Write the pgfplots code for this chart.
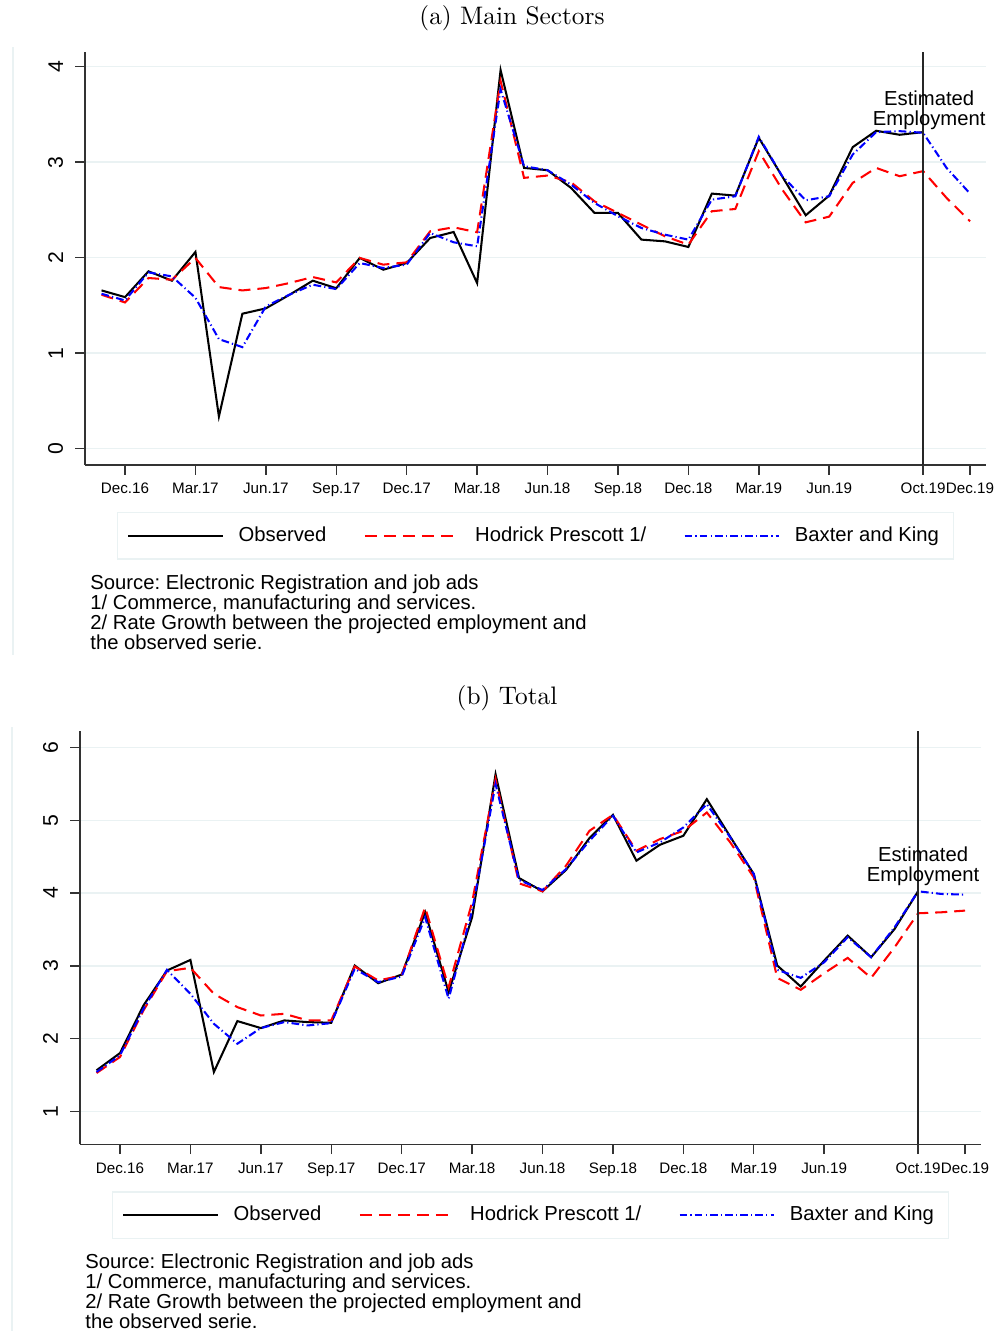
\documentclass[border=0pt]{standalone}
\usepackage{fontspec}
\setsansfont{Liberation Sans}
\usepackage{pgfplots}
\usepackage{pgfplotstable}
\pgfplotsset{compat=1.18}
\frenchspacing

\definecolor{gridc}{RGB}{234,242,243}

% monthly index: 0 = Nov.16 ... 35 = Oct.19, 37 = Dec.19
\pgfplotstableread{
i obs hp bk
0 1.657 1.612 1.622
1 1.587 1.531 1.552
2 1.857 1.787 1.846
3 1.759 1.769 1.804
4 2.060 1.997 1.580
5 0.336 1.692 1.147
6 1.413 1.657 1.063
7 1.469 1.682 1.490
8 1.610 1.734 1.612
9 1.759 1.797 1.717
10 1.680 1.741 1.671
11 1.997 1.997 1.944
12 1.874 1.927 1.892
13 1.944 1.951 1.927
14 2.206 2.276 2.259
15 2.269 2.318 2.161
16 1.734 2.266 2.119
17 3.965 3.850 3.762
18 2.940 2.836 2.958
19 2.916 2.860 2.916
20 2.731 2.790 2.766
21 2.469 2.590 2.573
22 2.469 2.469 2.434
23 2.189 2.346 2.311
24 2.171 2.224 2.241
25 2.112 2.136 2.189
26 2.671 2.486 2.608
27 2.650 2.510 2.643
28 3.255 3.115 3.266
29 2.850 2.713 2.853
30 2.444 2.370 2.601
31 2.650 2.430 2.643
32 3.157 2.783 3.080
33 3.329 2.940 3.315
34 3.287 2.853 3.325
35 3.315 2.906 3.308
36 nan 2.626 2.940
37 nan 2.381 2.671
}\mainsectors

\pgfplotstableread{
i obs hp bk
0 1.563 1.526 1.540
1 1.800 1.746 1.769
2 2.455 2.386 2.409
3 2.935 2.926 2.944
4 3.081 2.972 2.615
5 1.540 2.615 2.203
6 2.240 2.432 1.929
7 2.144 2.317 2.144
8 2.249 2.340 2.226
9 2.226 2.249 2.180
10 2.217 2.249 2.212
11 3.004 2.990 2.958
12 2.761 2.798 2.775
13 2.880 2.866 2.853
14 3.736 3.804 3.667
15 2.638 2.706 2.546
16 3.667 3.873 3.758
17 5.634 5.565 5.497
18 4.207 4.134 4.179
19 4.024 4.024 4.042
20 4.317 4.376 4.330
21 4.756 4.856 4.719
22 5.076 5.076 5.062
23 4.445 4.582 4.559
24 4.664 4.742 4.696
25 4.788 4.856 4.902
26 5.291 5.108 5.222
27 4.774 4.696 4.765
28 4.262 4.216 4.262
29 3.004 2.834 2.944
30 2.715 2.670 2.834
31 3.072 2.898 3.049
32 3.415 3.109 3.393
33 3.118 2.834 3.118
34 3.507 3.255 3.530
35 4.024 3.722 4.024
36 nan 3.736 3.988
37 nan 3.759 3.979
}\total

\pgfplotsset{
  statastyle/.style={
    scale only axis,
    width=373.9pt, height=171.5pt,
    anchor=south west,
    axis lines*=left,
    axis line style={black!80, line width=0.6pt},
    tick style={black!80, line width=0.6pt},
    tick align=outside,
    major tick length=4.1pt,
    xmin=-0.704, xmax=37.68,
    xtick={1,4,7,10,13,16,19,22,25,28,31,35,37},
    xticklabels={Dec.16,Mar.17,Jun.17,Sep.17,Dec.17,Mar.18,Jun.18,Sep.18,Dec.18,Mar.19,Jun.19,Oct.19,Dec.19},
    xticklabel style={font=\sffamily\fontsize{6.3}{7}\selectfont},
    yticklabel style={font=\sffamily\fontsize{8.8}{9}\selectfont, xshift=-1.5pt, rotate=90, anchor=south},
    /pgf/number format/assume math mode=true,
    ymajorgrids,
    grid style={gridc, line width=0.6pt},
    unbounded coords=jump,
    legend columns=3,
    legend style={
      at={(0.5,0)}, anchor=north, yshift=-19.5pt,
      draw=gridc, line width=0.6pt,
      font=\sffamily\fontsize{8.4}{9}\selectfont,
      inner xsep=4pt, inner ysep=3.8pt,
      /tikz/every odd column/.append style={column sep=4pt},
      /tikz/every even column/.append style={column sep=13.5pt},
    },
    legend image code/.code={\draw (0pt,0pt) -- (39.4pt,0pt);},
  },
  obsline/.style={black, line width=0.85pt},
  hpline/.style={red, line width=0.85pt, dash pattern=on 5pt off 2.9pt},
  bkline/.style={blue, line width=0.85pt, dash pattern=on 3.2pt off 1.3pt on 0.5pt off 1.3pt},
}

\begin{document}
\begin{tikzpicture}[x=0.415pt, y=0.415pt]
\path[use as bounding box] (0,0) rectangle (1002,1331);

% faint outer borders
\draw[gridc, line width=0.6pt] (13,1284) -- (13,676);
\draw[gridc, line width=0.6pt] (12,604) -- (12,0);

\node[font=\rmfamily\fontsize{10.5}{12}\selectfont] at (512,1313) {(a) Main Sectors};
\node[font=\rmfamily\fontsize{10.5}{12}\selectfont] at (507,633) {(b) Total};

\begin{axis}[statastyle, at={(35.28pt,359.39pt)}, ymin=-0.171, ymax=4.157, ytick={0,1,2,3,4}]
\addplot[obsline] table[x=i, y=obs] {\mainsectors};
\addlegendentry{Observed}
\addplot[hpline] table[x=i, y=hp] {\mainsectors};
\addlegendentry{Hodrick Prescott 1/}
\addplot[bkline] table[x=i, y=bk] {\mainsectors};
\addlegendentry{Baxter and King}
\draw[black!85, line width=0.8pt] (axis cs:35,-0.171) -- (axis cs:35,4.157);
\node[font=\sffamily\fontsize{8.4}{8.3}\selectfont, align=center, inner sep=0pt]
  at (axis cs:35.26,3.547) {Estimated\\Employment};
\end{axis}

\node[anchor=north west, inner sep=0pt, align=left, font=\sffamily\fontsize{8.4}{8.3}\selectfont]
  at (90,757) {Source: Electronic Registration and job ads\\1/ Commerce, manufacturing and services.\\2/ Rate Growth between the projected employment and\\the observed serie.};

\begin{axis}[statastyle, at={(33.2pt,77.48pt)}, ymin=0.546, ymax=6.228, ytick={1,2,3,4,5,6}]
\addplot[obsline] table[x=i, y=obs] {\total};
\addlegendentry{Observed}
\addplot[hpline] table[x=i, y=hp] {\total};
\addlegendentry{Hodrick Prescott 1/}
\addplot[bkline] table[x=i, y=bk] {\total};
\addlegendentry{Baxter and King}
\draw[black!85, line width=0.8pt] (axis cs:35,0.546) -- (axis cs:35,6.228);
\node[font=\sffamily\fontsize{8.4}{8.3}\selectfont, align=center, inner sep=0pt]
  at (axis cs:35.21,4.375) {Estimated\\Employment};
\end{axis}

\node[anchor=north west, inner sep=0pt, align=left, font=\sffamily\fontsize{8.4}{8.3}\selectfont]
  at (85,78) {Source: Electronic Registration and job ads\\1/ Commerce, manufacturing and services.\\2/ Rate Growth between the projected employment and\\the observed serie.};
\end{tikzpicture}
\end{document}
